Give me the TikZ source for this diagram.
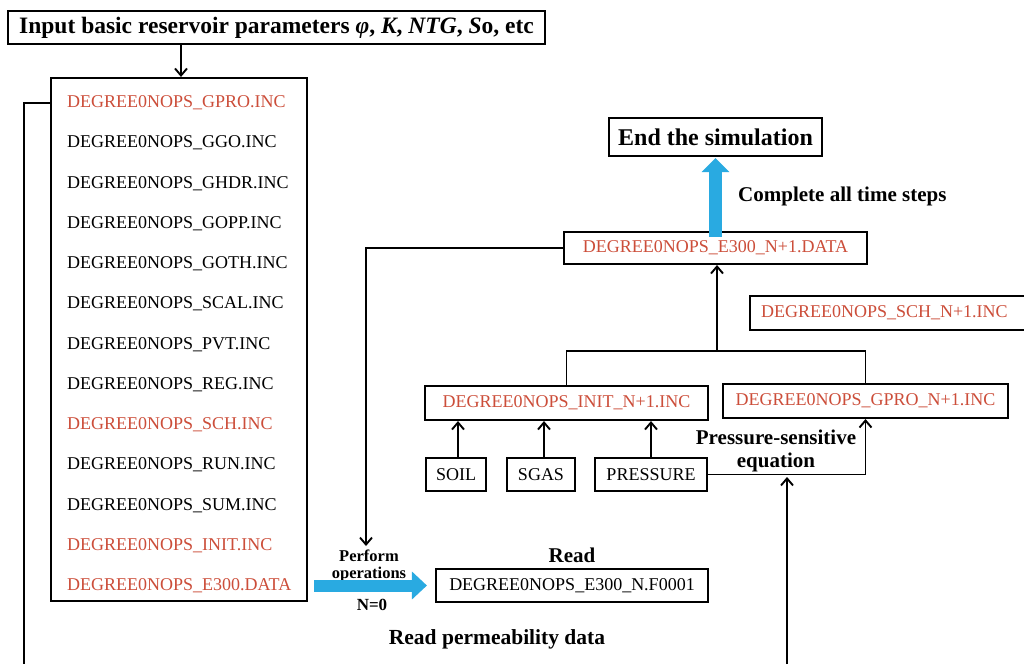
\documentclass[tikz,border=0pt]{standalone}
\usepackage{fontspec}
\setmainfont{Liberation Serif}
\usetikzlibrary{arrows.meta}
\definecolor{fred}{RGB}{204,78,58}
\definecolor{fblue}{RGB}{41,170,225}
\tikzset{
  box/.style={draw, line width=2.1pt, inner sep=0pt, font=\fontsize{18}{20}\selectfont},
  item/.style={anchor=west, inner sep=0pt, font=\fontsize{18}{20}\selectfont},
  lbl/.style={inner sep=0pt, font=\bfseries\fontsize{21}{23}\selectfont},
  conn/.style={line width=1.9pt},
  arr/.style={line width=1.9pt, -{Straight Barb[length=7pt,width=12pt,line width=1.9pt]}},
}
\begin{document}
\begin{tikzpicture}[x=1pt,y=-1pt]
\useasboundingbox (0,0) rectangle (1024,664);
\fill[white] (0,0) rectangle (1024,664);

% title
\node[box, minimum width=537pt, minimum height=33pt, font=\bfseries\fontsize{23.5}{25}\selectfont] (title) at (276.5,27.5)
  {Input basic reservoir parameters \textit{φ}, \textit{K}, \textit{NTG}, \textit{S}o, etc};

% list box
\node[box, minimum width=256pt, minimum height=523pt] (list) at (179,339.5) {};
\node[item, text=fred] (i1) at (67,103) {DEGREE0NOPS\_GPRO.INC};
\node[item] (i2) at (67,143) {DEGREE0NOPS\_GGO.INC};
\node[item] (i3) at (67,183.5) {DEGREE0NOPS\_GHDR.INC};
\node[item] (i4) at (67,223.5) {DEGREE0NOPS\_GOPP.INC};
\node[item] (i5) at (67,264) {DEGREE0NOPS\_GOTH.INC};
\node[item] (i6) at (67,304) {DEGREE0NOPS\_SCAL.INC};
\node[item] (i7) at (67,344.5) {DEGREE0NOPS\_PVT.INC};
\node[item] (i8) at (67,384.5) {DEGREE0NOPS\_REG.INC};
\node[item, text=fred] (i9) at (67,425) {DEGREE0NOPS\_SCH.INC};
\node[item] (i10) at (67,465) {DEGREE0NOPS\_RUN.INC};
\node[item] (i11) at (67,505.5) {DEGREE0NOPS\_SUM.INC};
\node[item, text=fred] (i12) at (67,545.5) {DEGREE0NOPS\_INIT.INC};
\node[item, text=fred] (i13) at (67,586) {DEGREE0NOPS\_E300.DATA};

\draw[arr] (title.south -| 181,0) -- (list.north -| 181,0);

% left loop
\coordinate (la) at (24,103);
\coordinate (lb) at (24,664);
\draw[conn] (list.west |- i1) -- (la) -- (lb);

% right side boxes
\node[box, minimum width=213pt, minimum height=38pt, font=\bfseries\fontsize{24}{26}\selectfont] (end) at (715.5,137) {End the simulation};
\node[box, minimum width=303pt, minimum height=32pt, text=fred] (dataN) at (715.5,248) {DEGREE0NOPS\_E300\_N+1.DATA};
\node[box, anchor=west, minimum height=34pt, text width=260pt, align=left, inner xsep=11pt, text=fred] (sch) at (749,313) {DEGREE0NOPS\_SCH\_N+1.INC};
\node[box, minimum width=283pt, minimum height=34pt, text=fred] (init) at (566.5,403) {DEGREE0NOPS\_INIT\_N+1.INC};
\node[box, minimum width=285pt, minimum height=34pt, text=fred] (gpro) at (865.5,401) {DEGREE0NOPS\_GPRO\_N+1.INC};
\node[box, minimum width=60pt, minimum height=33pt] (soil) at (456,474.5) {SOIL};
\node[box, minimum width=68pt, minimum height=33pt] (sgas) at (541,474.5) {SGAS};
\node[box, minimum width=112pt, minimum height=33pt] (pres) at (651,474.5) {PRESSURE};
\node[box, minimum width=272pt, minimum height=33pt] (f1) at (572,585.5) {DEGREE0NOPS\_E300\_N.F0001};

% labels
\node[lbl, anchor=west] (comp) at (738,196) {Complete all time steps};
\node[lbl] (ps1) at (776,437) {Pressure-sensitive};
\node[lbl] (ps2) at (776,462) {equation};
\node[lbl, font=\bfseries\fontsize{16.5}{18}\selectfont] (perf1) at (369,556) {Perform};
\node[lbl, font=\bfseries\fontsize{16.5}{18}\selectfont] (perf2) at (369,575) {operations};
\node[lbl, font=\bfseries\fontsize{17}{19}\selectfont] (n0) at (372,605) {N=0};
\node[lbl, font=\bfseries\fontsize{21}{23}\selectfont] (read) at (572,555) {Read};
\node[lbl, font=\bfseries\fontsize{21.5}{23}\selectfont] (readp) at (497,639) {Read permeability data};

% blue arrows
\draw[line width=13pt, fblue, -{Triangle[length=14pt,width=27pt]}] ([yshift=-6pt]dataN.north) -- ([yshift=-1pt]end.south);
\draw[line width=12pt, fblue, -{Triangle[length=15pt,width=27pt]}] ([xshift=6pt]list.east |- f1) -- ([xshift=-8pt]f1.west);

% connectors
\coordinate (br) at (717,351);
\draw[arr] (br) -- (dataN.south -| br);
\draw[conn] (init.north) |- (br) -| (gpro.north);
\draw[arr] (soil.north) ++(2,0) coordinate (s1) -- (init.south -| s1);
\draw[arr] (sgas.north) ++(3,0) coordinate (s2) -- (init.south -| s2);
\draw[arr] (pres.north) -- (init.south -| pres.north);
\draw[arr] (pres.east) -- (pres.east -| gpro.south) -- (gpro.south);
\coordinate (lc) at (366,248);
\coordinate (ld) at (366,546);
\draw[arr] (dataN.west) -- (lc) -- (ld);
\coordinate (rb) at (787,664);
\coordinate (rc) at (787,477);
\draw[arr] (rb) -- (rc);
\end{tikzpicture}
\end{document}
